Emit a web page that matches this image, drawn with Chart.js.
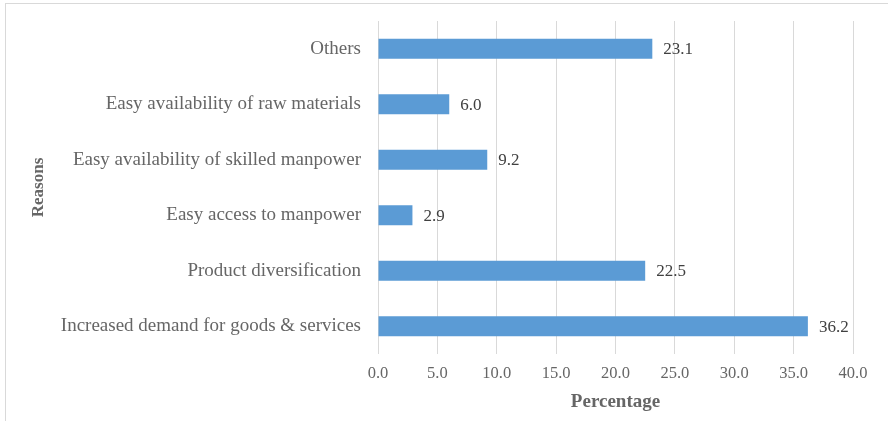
<!DOCTYPE html>
<html>
<head>
<meta charset="utf-8">
<script src="https://cdn.jsdelivr.net/npm/chart.js@4/dist/chart.umd.min.js"></script>
<style>
  html, body { margin: 0; padding: 0; background: #fff; }
  #wrap { position: relative; width: 888px; height: 421px; }
  #frame { position: absolute; left: 5px; top: 3px; width: 900px; height: 430px;
           border: 1px solid #d9d9d9; box-sizing: border-box; pointer-events: none; }
  canvas { position: absolute; left: 0; top: 0; }
</style>
</head>
<body>
<div id="wrap">
  <canvas id="myChart" width="888" height="421"></canvas>
  <div id="frame"></div>
</div>
<script>
const reasons = [
    'Others',
    'Easy availability of raw materials',
    'Easy availability of skilled manpower',
    'Easy access to manpower',
    'Product diversification',
    'Increased demand for goods & services',
]
const percentages = [23.1, 6.0, 9.2, 2.9, 22.5, 36.2]
const xTicks = [0, 5, 10, 15, 20, 25, 30, 35, 40]

const serif = '"Liberation Serif", "Times New Roman", serif'

// value label at the end of each bar
const barValues = {
    id: 'barValues',
    afterDatasetsDraw(chart) {
        const ctx = chart.ctx
        const meta = chart.getDatasetMeta(0)
        ctx.save()
        ctx.font = '17px ' + serif
        ctx.fillStyle = '#404040'
        ctx.textAlign = 'left'
        ctx.textBaseline = 'middle'
        meta.data.forEach((bar, i) => {
            ctx.fillText(percentages[i].toFixed(1), bar.x + 11, bar.y + 1)
        })
        ctx.restore()
    }
}

const data = {
    labels: reasons,
    datasets: [{
        label: 'Percentage',
        backgroundColor: '#5b9bd5',
        data: percentages,
        barPercentage: 0.36,
        categoryPercentage: 1
    }]
}

const config = {
    type: 'bar',
    data: data,
    options: {
        indexAxis: 'y',
        responsive: false,
        animation: false,
        layout: { padding: { left: 20, top: 21, right: 35, bottom: 6 } },
        plugins: {
            legend: { display: false },
            tooltip: { enabled: false }
        },
        scales: {
            x: {
                min: 0,
                max: 40,
                afterBuildTicks(axis) { axis.ticks = xTicks.map(v => ({ value: v })) },
                afterFit(axis) { axis.height = 61 },
                grid: { color: '#d9d9d9', lineWidth: 1, drawTicks: false },
                border: { display: false },
                ticks: {
                    padding: 10,
                    color: '#666666',
                    font: { family: serif, size: 16.5 },
                    callback: v => Number(v).toFixed(1)
                },
                title: {
                    display: true,
                    text: 'Percentage',
                    color: '#666666',
                    font: { family: serif, size: 19, weight: 'bold' },
                    padding: { top: 6, bottom: 2 }
                }
            },
            y: {
                afterFit(axis) {
                    axis.width = 358
                    axis.paddingTop = 0
                    axis.paddingBottom = 0
                },
                grid: { display: false, drawTicks: false },
                border: { display: false },
                ticks: {
                    padding: 17,
                    color: '#666666',
                    font: { family: serif, size: 19 }
                },
                title: {
                    display: true,
                    text: 'Reasons',
                    color: '#666666',
                    font: { family: serif, size: 17, weight: 'bold' },
                    padding: { top: 8, bottom: 0 }
                }
            }
        }
    },
    plugins: [barValues]
}

const myChart = new Chart(
    document.getElementById('myChart'),
    config
)
</script>
</body>
</html>
